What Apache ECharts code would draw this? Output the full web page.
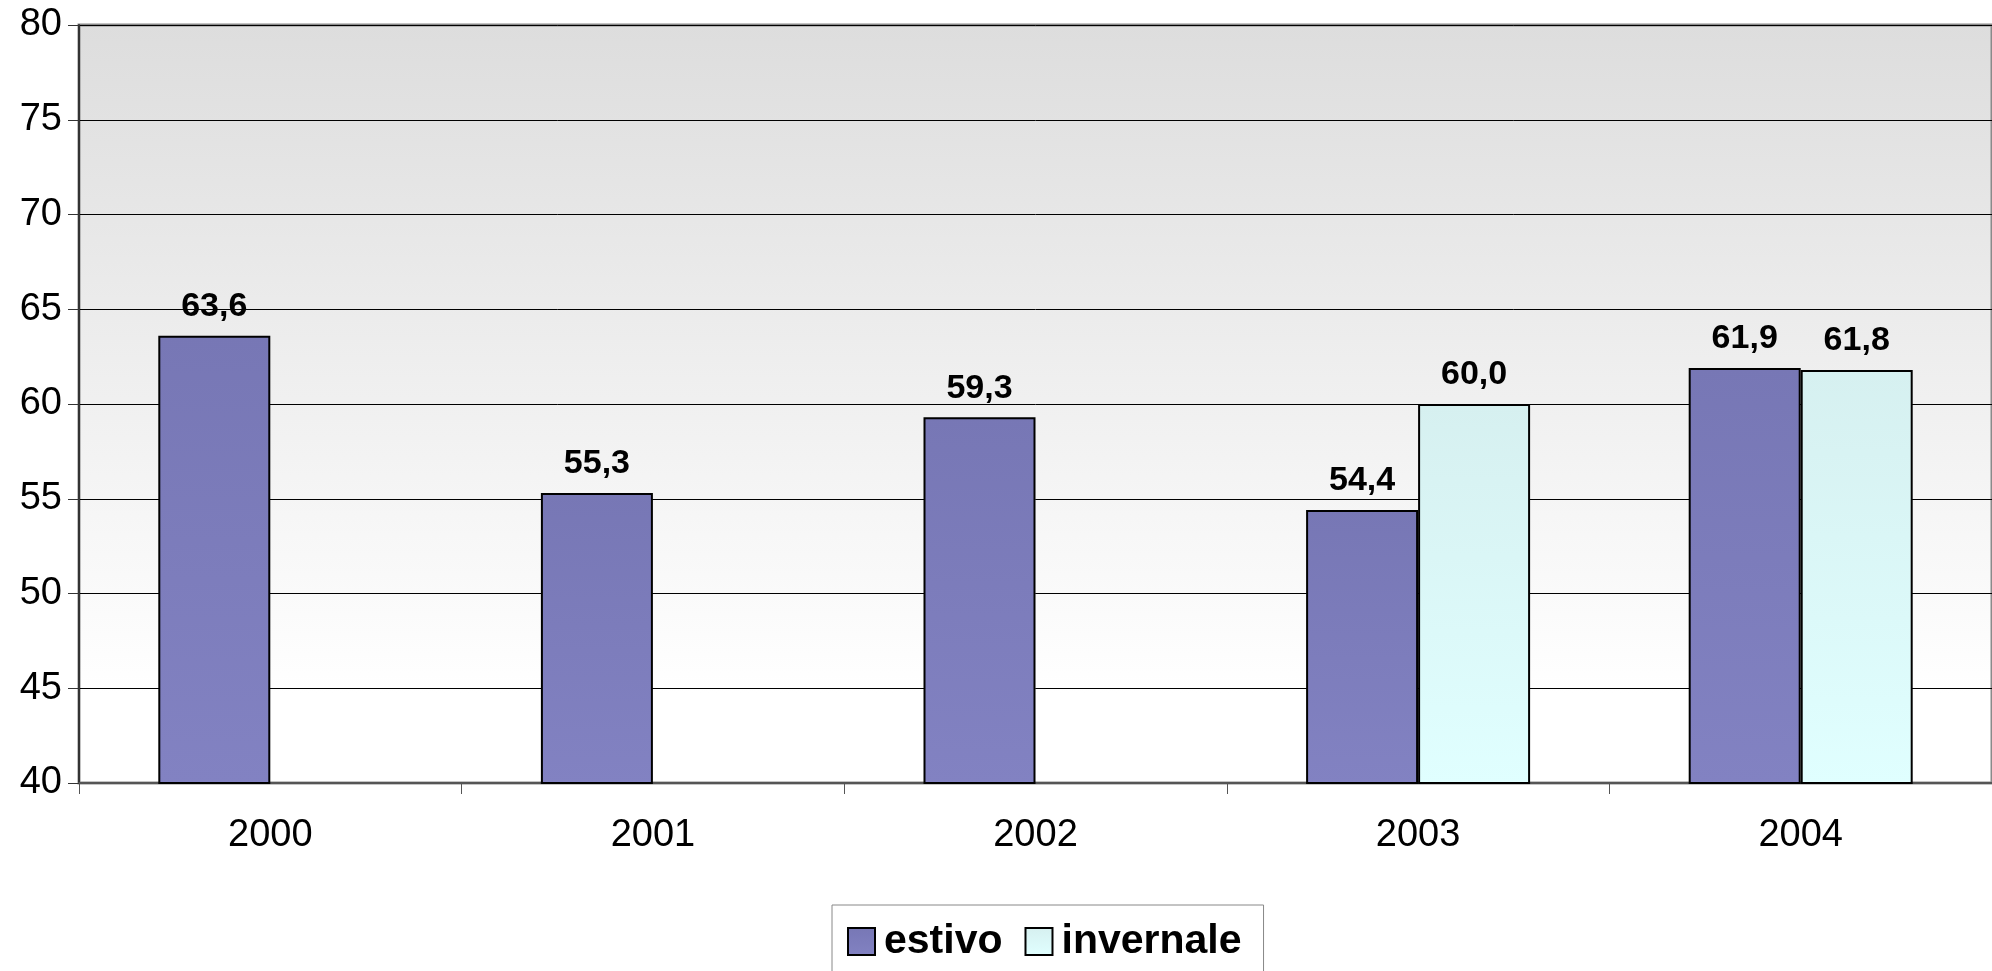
<!DOCTYPE html>
<html>
<head>
<meta charset="utf-8">
<script src="https://cdn.jsdelivr.net/npm/echarts@6/dist/echarts.min.js"></script>
<style>
  html, body { margin: 0; padding: 0; background: #fff; }
  #chart { width: 1992px; height: 971px; }
</style>
</head>
<body>
<div id="chart"></div>
<script>
// anni e valori
const years = ['2000', '2001', '2002', '2003', '2004'];
const estivo = [63.6, 55.3, 59.3, 54.4, 61.9];
const invernale = [null, null, null, 60.0, 61.8];
const seriesNames = ['estivo', 'invernale'];

const chart = echarts.init(document.getElementById('chart'));

function fmt(p) {
    return p.value == null ? '' : p.value.toFixed(1).replace('.', ',');
}

const labelStyle = {
    show: true,
    position: 'top',
    distance: 12,
    formatter: fmt,
    color: '#000',
    fontSize: 34,
    fontWeight: 'bold',
    fontFamily: '"Liberation Sans Narrow", "Liberation Sans", Arial, sans-serif'
};

const option = {
    animation: false,
    grid: {
        left: 79, top: 25, width: 1920, height: 758,
        show: true,
        borderWidth: 3,
        borderColor: '#8a8a8a',
        backgroundColor: new echarts.graphic.LinearGradient(0, 0, 0, 1, [
            { offset: 0, color: '#dddddd' },
            { offset: 0.88, color: '#ffffff' },
            { offset: 1, color: '#ffffff' }
        ])
    },
    legend: {
        data: seriesNames,
        left: 832,
        top: 905,
        orient: 'horizontal',
        icon: 'rect',
        padding: [16, 22, 40, 15],
        itemWidth: 27,
        itemHeight: 27,
        itemGap: 22,
        borderColor: '#888',
        borderWidth: 1,
        backgroundColor: '#fff',
        itemStyle: { borderColor: '#000', borderWidth: 2 },
        textStyle: {
            fontSize: 41,
            fontWeight: 'bold',
            color: '#000',
            padding: [0, 0, 0, 4],
            fontFamily: 'Arial, "Liberation Sans", sans-serif'
        }
    },
    xAxis: {
        type: 'category',
        data: years,
        axisLine: { lineStyle: { color: '#555', width: 2 } },
        axisTick: { show: true, length: 11, lineStyle: { color: '#555', width: 1 } },
        axisLabel: {
            fontSize: 38,
            color: '#000',
            margin: 34,
            fontFamily: 'Arial, "Liberation Sans", sans-serif'
        }
    },
    yAxis: {
        type: 'value',
        min: 40,
        max: 80,
        interval: 5,
        axisLine: { show: true, lineStyle: { color: '#333', width: 2 } },
        axisTick: { show: true, length: 11, lineStyle: { color: '#333', width: 1 } },
        axisLabel: {
            fontSize: 38,
            color: '#000',
            margin: 17,
            fontFamily: 'Arial, "Liberation Sans", sans-serif'
        },
        splitLine: { show: true, lineStyle: { color: '#000', width: 1 } }
    },
    series: [
        {
            name: seriesNames[0],
            type: 'bar',
            data: estivo,
            barWidth: 112,
            barGap: '0%',
            itemStyle: {
                color: new echarts.graphic.LinearGradient(0, 0, 0, 1, [
                    { offset: 0, color: '#7777b5' },
                    { offset: 1, color: '#8282c2' }
                ]),
                borderColor: '#000',
                borderWidth: 2
            },
            label: labelStyle
        },
        {
            name: seriesNames[1],
            type: 'bar',
            data: invernale,
            barWidth: 112,
            itemStyle: {
                color: new echarts.graphic.LinearGradient(0, 0, 0, 1, [
                    { offset: 0, color: '#d6f0f0' },
                    { offset: 1, color: '#e0ffff' }
                ]),
                borderColor: '#000',
                borderWidth: 2
            },
            label: labelStyle
        }
    ]
};

chart.setOption(option);
window.addEventListener('resize', () => chart.resize());
</script>
</body>
</html>
